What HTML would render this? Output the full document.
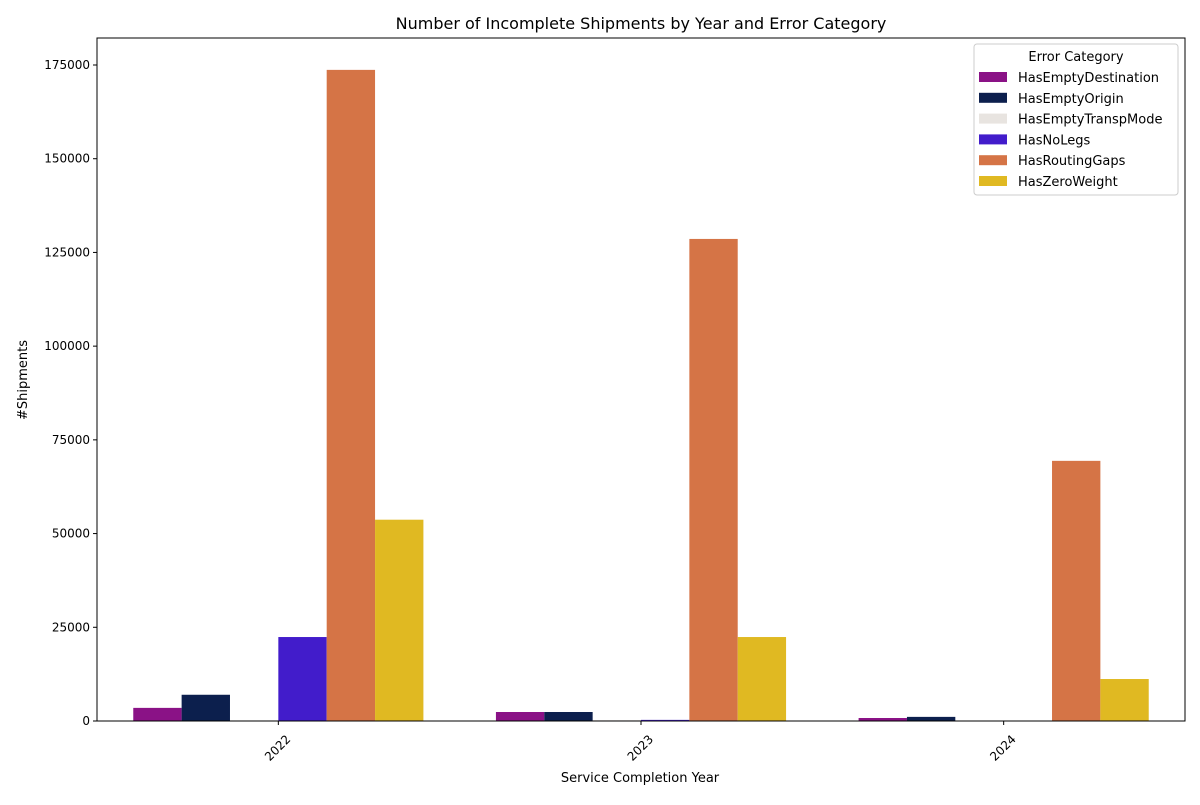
<!DOCTYPE html>
<html><head><meta charset="utf-8"><style>
body{margin:0;background:#fff;font-family:"Liberation Sans","DejaVu Sans",sans-serif;}
svg text{font-family:"DejaVu Sans","Liberation Sans",sans-serif;fill:#000}
</style></head><body>
<svg id="chart" width="1200" height="800"></svg>
<script>
const years = ["2022","2023","2024"];
const categories = ["HasEmptyDestination","HasEmptyOrigin","HasEmptyTranspMode","HasNoLegs","HasRoutingGaps","HasZeroWeight"];
const colors = ["#8a1286","#0c1f4d","#e8e4e0","#421ccb","#d57446","#e0b922"];
const valsDest = [3500, 2400, 800];
const valsOrigin = [7000, 2400, 1100];
const valsTransp = [150, 200, 0];
const valsNoLegs = [22400, 300, 0];
const valsRouting = [173700, 128600, 69400];
const valsZero = [53700, 22400, 11200];
const yTicks = [0,25000,50000,75000,100000,125000,150000,175000];

const series=[valsDest,valsOrigin,valsTransp,valsNoLegs,valsRouting,valsZero];
const svg=document.getElementById('chart');
const NS='http://www.w3.org/2000/svg';
const L=97,R=1185,T=38,B=721;
const yScale=v=>B-v*(656/175000);
const step=(R-L)/3;
const xCenter=i=>L+step*(i+0.5);
const bw=step*0.8/6;
function mk(tag,attrs,parent){const e=document.createElementNS(NS,tag);for(const k in attrs)e.setAttribute(k,attrs[k]);(parent||svg).appendChild(e);return e;}
function txt(s,attrs){const e=mk('text',attrs);e.textContent=s;return e;}

series.forEach((vals,si)=>{vals.forEach((v,i)=>{
 const x=xCenter(i)-step*0.4+si*bw;
 const r=mk('rect',{x:x,y:yScale(v),width:bw,height:B-yScale(v),fill:colors[si]});
 
 
});});

const fr=mk('rect',{x:L,y:T,width:R-L,height:B-T,fill:'none',stroke:'#000','stroke-width':1});



yTicks.forEach(t=>{const y=yScale(t);
 mk('line',{x1:L-4,x2:L,y1:y,y2:y,stroke:'#000'});
 const e=txt(String(t),{x:L-7,y:y+4,'text-anchor':'end','font-size':12});
 
 
});
years.forEach((yr,i)=>{const x=xCenter(i)+13;const y=B+19;
 mk('line',{x1:xCenter(i),x2:xCenter(i),y1:B,y2:B+4,stroke:'#000'});
 const e=txt(yr,{x:x,y:y,'text-anchor':'end','font-size':12,transform:`rotate(-45 ${x} ${y})`});
 
 
});
let e=txt('Number of Incomplete Shipments by Year and Error Category',{x:(L+R)/2,y:29,'text-anchor':'middle','font-size':16});

e=txt('Service Completion Year',{x:640,y:782,'text-anchor':'middle','font-size':13});

e=txt('#Shipments',{x:27,y:380,'text-anchor':'middle','font-size':13,transform:'rotate(-90 27 380)'});


const lg=mk('g',{});


mk('rect',{x:974,y:44,width:204,height:151,rx:3,fill:'#fff',stroke:'#ccc'},lg);
const lt=mk('text',{x:1076,y:61,'text-anchor':'middle','font-size':13},lg);lt.textContent='Error Category';
categories.forEach((c,i)=>{const y=77+i*20.8;
 const g=mk('g',{},lg);
 
 
 mk('rect',{x:979,y:y-5,width:28,height:10,fill:colors[i]},g);
 const t=mk('text',{x:1018,y:y+5,'font-size':13},g);t.textContent=c;
});
</script>
</body></html>
